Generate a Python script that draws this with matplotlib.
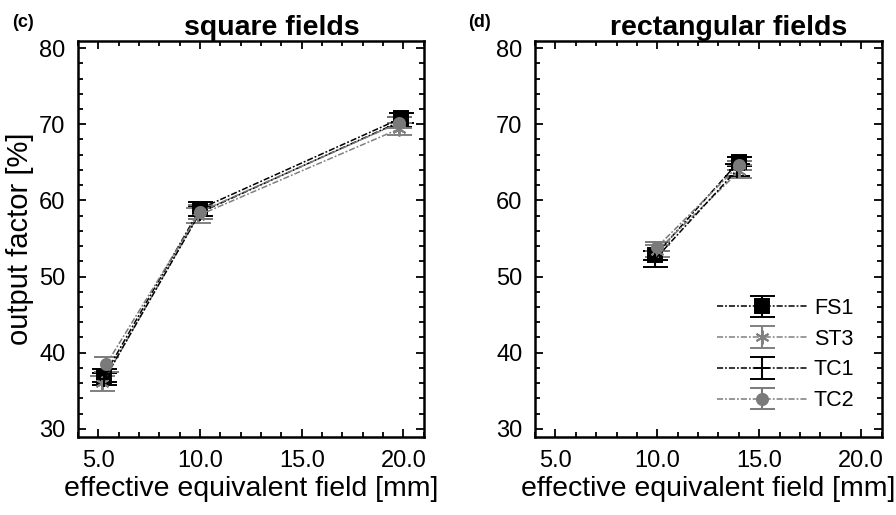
import matplotlib.pyplot as plt
from matplotlib.ticker import MultipleLocator, FormatStrFormatter

plt.rcParams['font.family'] = ['Liberation Sans', 'DejaVu Sans']

series = ['FS1', 'ST3', 'TC1', 'TC2']

# square fields
sq_x = {'FS1': [5.3, 10.0, 19.9], 'ST3': [5.2, 9.9, 19.8],
        'TC1': [5.3, 10.0, 19.8], 'TC2': [5.4, 10.0, 19.8]}
sq_y = {'FS1': [37.0, 58.9, 70.8], 'ST3': [36.0, 58.0, 69.4],
        'TC1': [36.5, 58.4, 70.3], 'TC2': [38.5, 58.5, 70.2]}
sq_err = {'FS1': [0.9, 0.9, 0.7], 'ST3': [1.0, 1.0, 0.8],
          'TC1': [0.8, 0.9, 0.7], 'TC2': [1.0, 0.9, 0.7]}

# rectangular fields
re_x = {'FS1': [9.9, 14.0], 'ST3': [10.0, 14.0],
        'TC1': [9.9, 13.9], 'TC2': [10.0, 14.0]}
re_y = {'FS1': [52.8, 65.1], 'ST3': [53.4, 63.8],
        'TC1': [52.3, 64.0], 'TC2': [53.9, 64.6]}
re_err = {'FS1': [0.6, 0.6], 'ST3': [0.8, 0.8],
          'TC1': [1.0, 0.8], 'TC2': [0.6, 0.6]}

styles = {
    'FS1': dict(color='black', marker='s', ms=9.5),
    'ST3': dict(color='#808080', marker=(6, 2, 0), ms=10),
    'TC1': dict(color='black', marker='+', ms=12),
    'TC2': dict(color='#7a7a7a', marker='o', ms=8),
}

xticks = [5.0, 10.0, 15.0, 20.0]
yticks = [30, 40, 50, 60, 70, 80]

fig = plt.figure(figsize=(8.96, 5.15), dpi=100)
ax1 = fig.add_axes([0.087, 0.151, 0.386, 0.769])
ax2 = fig.add_axes([0.597, 0.151, 0.387, 0.769])


def draw(ax, xs, ys, errs):
    for s in series:
        st = styles[s]
        ax.errorbar(xs[s], ys[s], yerr=errs[s], color=st['color'],
                    marker=st['marker'], ms=st['ms'], mew=1.4,
                    linestyle=(0, (4, 1.3, 1.2, 1.3)), lw=1.1,
                    capsize=9, capthick=1.5, elinewidth=1.5, label=s)
    ax.set_xlim(4.0, 21.0)
    ax.set_ylim(28.9, 80.9)
    ax.set_xticks(xticks)
    ax.set_yticks(yticks)
    ax.xaxis.set_major_formatter(FormatStrFormatter('%.1f'))
    ax.xaxis.set_minor_locator(MultipleLocator(1))
    ax.yaxis.set_minor_locator(MultipleLocator(2))
    ax.tick_params(which='both', direction='in', top=True, right=True,
                   labelsize=17, width=1.3)
    ax.tick_params(which='major', length=6, pad=9)
    ax.tick_params(which='minor', length=3.5)
    for sp in ax.spines.values():
        sp.set_linewidth(1.8)
    ax.set_xlabel('effective equivalent field [mm]', fontsize=20.5, labelpad=3)


draw(ax1, sq_x, sq_y, sq_err)
draw(ax2, re_x, re_y, re_err)

ax1.set_ylabel('output factor [%]', fontsize=21, labelpad=4)
ax1.set_title('square fields', fontsize=20.5, fontweight='bold', pad=4, x=0.56)
ax2.set_title('rectangular fields', fontsize=20.5, fontweight='bold', pad=4, x=0.56)
fig.text(12 / 896, 1 - 14 / 515, '(c)', fontsize=13, fontweight='bold', va='top')
fig.text(468 / 896, 1 - 14 / 515, '(d)', fontsize=13, fontweight='bold', va='top')

ax2.legend(loc='upper left', bbox_to_anchor=(717 / 896, 1 - 298 / 515),
           bbox_transform=fig.transFigure, frameon=False, fontsize=15.5,
           handlelength=4.2, labelspacing=0.45, handletextpad=0.3,
           borderpad=0, borderaxespad=0)

fig.savefig('out.png', dpi=100)
